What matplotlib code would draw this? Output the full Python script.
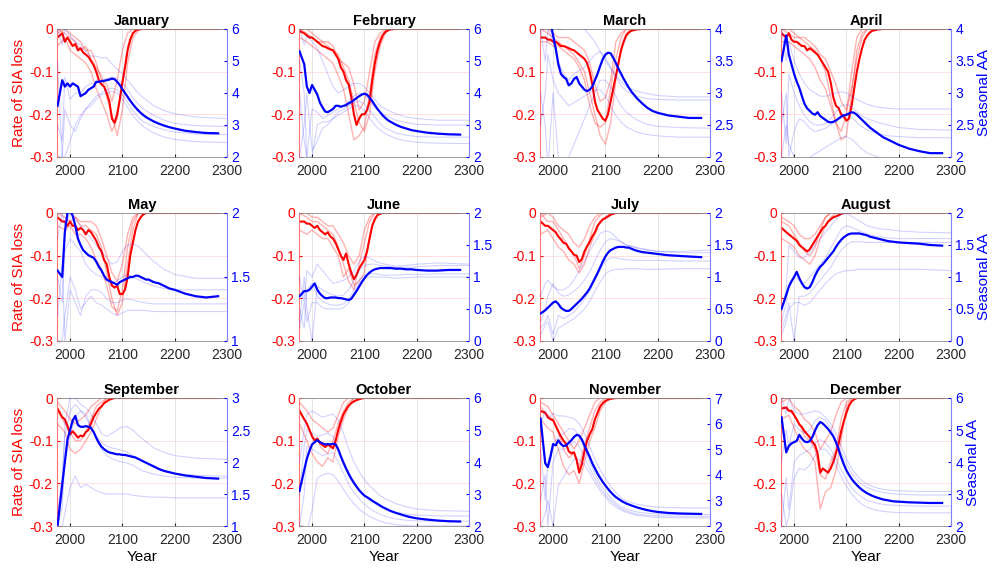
import matplotlib.pyplot as plt
from matplotlib.ticker import FormatStrFormatter

plt.rcParams['font.family'] = ['Liberation Sans', 'DejaVu Sans']
plt.rcParams['axes.unicode_minus'] = False

# years of the ensemble-mean curves
years = [1976, 1985, 1990, 1995, 2000, 2005, 2010, 2015, 2020, 2025,
         2030, 2035, 2040, 2045, 2050, 2055, 2060, 2065, 2070, 2075,
         2080, 2085, 2090, 2095, 2100, 2105, 2110, 2115, 2120, 2125,
         2130, 2135, 2140, 2145, 2150, 2160, 2170, 2180, 2190, 2200,
         2220, 2240, 2260, 2283]
# years of the single-member curves
years_aa_members = [1976, 1985, 1990, 2000, 2010, 2020, 2030, 2040, 2050, 2060,
                    2070, 2080, 2090, 2100, 2110, 2120, 2130, 2140, 2160, 2180,
                    2200, 2240, 2300]
years_sia_members = [1976, 1990, 2000, 2010, 2020, 2030, 2040, 2050, 2060, 2070,
                     2080, 2090, 2100, 2110, 2120, 2130, 2140, 2150, 2160, 2300]

months = ['January', 'February', 'March', 'April', 'May', 'June',
          'July', 'August', 'September', 'October', 'November', 'December']
aa_limits = [(2, 6), (2, 6), (2, 4), (2, 4), (1, 2), (0, 2),
             (0, 2), (0, 2), (1, 3), (2, 6), (2, 7), (2, 6)]
aa_steps = [1, 1, 0.5, 0.5, 0.5, 0.5, 0.5, 0.5, 0.5, 1, 1, 1]

# ---- January
sia_jan = [-0.02, -0.01, -0.03, -0.02, -0.03, -0.04, -0.035, -0.05, -0.045, -0.055,
           -0.06, -0.065, -0.075, -0.085, -0.1, -0.12, -0.13, -0.135, -0.15, -0.17,
           -0.21, -0.22, -0.2, -0.165, -0.125, -0.09, -0.05, -0.025, -0.01, -0.004,
           -0.001, 0, 0, 0, 0, 0, 0, 0, 0, 0,
           0, 0, 0, 0]
aa_jan = [3.6, 4.4, 4.2, 4.3, 4.2, 4.3, 4.25, 4.2, 3.9, 3.95,
          4.0, 4.1, 4.15, 4.2, 4.35, 4.35, 4.37, 4.38, 4.4, 4.42,
          4.45, 4.43, 4.35, 4.25, 4.12, 4.0, 3.88, 3.76, 3.65, 3.55,
          3.46, 3.38, 3.31, 3.25, 3.2, 3.11, 3.04, 2.98, 2.93, 2.89,
          2.82, 2.78, 2.75, 2.74]
sia_jan_members = [
    [0, -0.01, -0.02, -0.03, -0.05, -0.04, -0.07, -0.09, -0.11, -0.16, -0.2, -0.25, -0.19, -0.08, -0.02, -0.005, 0, 0, 0, 0],
    [-0.04, -0.02, -0.05, -0.06, -0.07, -0.08, -0.1, -0.14, -0.17, -0.2, -0.24, -0.21, -0.13, -0.04, -0.01, 0, 0, 0, 0, 0],
    [-0.01, 0, -0.01, -0.02, -0.03, -0.05, -0.05, -0.08, -0.12, -0.13, -0.17, -0.12, -0.05, -0.01, 0, 0, 0, 0, 0, 0]]
aa_jan_members = [
    [6, 5.5, 6, 5.8, 5.6, 5.5, 5.3, 5.15, 5.15, 5.1, 5.1, 4.9, 4.75, 4.6, 4.4, 4.2, 4.0, 3.85, 3.6, 3.45, 3.35, 3.25, 3.2],
    [3, 2.5, 4.5, 3.8, 4.0, 4.0, 4.2, 4.3, 4.3, 4.4, 4.45, 4.5, 4.45, 4.3, 4.1, 3.85, 3.65, 3.5, 3.3, 3.15, 3.05, 2.98, 2.95],
    [2, 2.0, 3.5, 3.0, 2.8, 3.2, 3.5, 3.7, 3.9, 4.0, 4.1, 4.15, 4.1, 3.95, 3.7, 3.45, 3.25, 3.1, 2.95, 2.85, 2.78, 2.72, 2.7],
    [5, 2.0, 2.0, 2.5, 3.0, 3.3, 3.5, 3.6, 3.8, 3.95, 4.0, 4.05, 4.0, 3.8, 3.55, 3.3, 3.1, 2.95, 2.75, 2.62, 2.55, 2.48, 2.45]]

# ---- February
sia_feb = [-0.005, -0.01, -0.015, -0.02, -0.02, -0.025, -0.03, -0.035, -0.04, -0.042,
           -0.045, -0.048, -0.05, -0.06, -0.07, -0.09, -0.1, -0.12, -0.13, -0.16,
           -0.2, -0.225, -0.21, -0.2, -0.2, -0.19, -0.17, -0.12, -0.08, -0.05,
           -0.03, -0.015, -0.007, -0.003, -0.001, 0, 0, 0, 0, 0,
           0, 0, 0, 0]
aa_feb = [5.3, 4.9, 4.2, 4.0, 4.25, 4.1, 3.95, 3.7, 3.55, 3.42,
          3.4, 3.45, 3.5, 3.6, 3.6, 3.57, 3.6, 3.62, 3.68, 3.72,
          3.78, 3.84, 3.9, 3.95, 3.98, 3.95, 3.85, 3.75, 3.62, 3.5,
          3.4, 3.3, 3.22, 3.15, 3.1, 3.01, 2.94, 2.89, 2.84, 2.81,
          2.76, 2.73, 2.71, 2.7]
sia_feb_members = [
    [0, -0.01, -0.02, -0.03, -0.03, -0.04, -0.05, -0.06, -0.09, -0.12, -0.17, -0.22, -0.24, -0.2, -0.1, -0.04, -0.01, 0, 0, 0],
    [-0.02, -0.03, -0.04, -0.05, -0.06, -0.07, -0.08, -0.11, -0.14, -0.2, -0.26, -0.25, -0.23, -0.15, -0.06, -0.02, -0.005, 0, 0, 0],
    [0, 0, -0.01, -0.02, -0.03, -0.03, -0.04, -0.07, -0.08, -0.09, -0.13, -0.19, -0.17, -0.1, -0.03, -0.01, 0, 0, 0, 0]]
aa_feb_members = [
    [6, 5.5, 5.8, 5.6, 5.4, 5.0, 4.6, 4.2, 4.0, 4.1, 4.2, 4.3, 4.3, 4.2, 4.0, 3.8, 3.6, 3.5, 3.35, 3.25, 3.2, 3.15, 3.15],
    [4, 2.5, 2.0, 3.5, 3.4, 3.2, 3.3, 3.4, 3.5, 3.6, 3.75, 3.9, 4.0, 3.95, 3.75, 3.55, 3.4, 3.3, 3.15, 3.07, 3.02, 3.0, 3.0],
    [2, 3, 4, 2.2, 2.5, 2.9, 3.0, 3.2, 3.4, 3.5, 3.6, 3.7, 3.75, 3.65, 3.45, 3.25, 3.05, 2.9, 2.75, 2.68, 2.64, 2.62, 2.62],
    [5, 4, 2.0, 2.0, 3.0, 3.1, 3.1, 3.2, 3.3, 3.4, 3.5, 3.6, 3.6, 3.45, 3.2, 3.0, 2.85, 2.72, 2.58, 2.5, 2.46, 2.43, 2.42]]

# ---- March
sia_mar = [-0.02, -0.02, -0.025, -0.025, -0.03, -0.03, -0.035, -0.04, -0.04, -0.042,
           -0.045, -0.048, -0.05, -0.055, -0.06, -0.065, -0.07, -0.08, -0.1, -0.13,
           -0.17, -0.19, -0.2, -0.21, -0.215, -0.2, -0.17, -0.14, -0.11, -0.08,
           -0.05, -0.03, -0.015, -0.008, -0.004, -0.001, 0, 0, 0, 0,
           0, 0, 0, 0]
aa_mar = [4.5, 4.4, 4.2, 4.1, 3.9, 3.7, 3.45, 3.3, 3.25, 3.22,
          3.12, 3.15, 3.22, 3.25, 3.15, 3.1, 3.05, 3.03, 3.05, 3.1,
          3.2, 3.3, 3.42, 3.53, 3.6, 3.63, 3.62, 3.55, 3.47, 3.38,
          3.3, 3.22, 3.15, 3.08, 3.02, 2.92, 2.84, 2.77, 2.72, 2.69,
          2.65, 2.63, 2.61, 2.61]
sia_mar_members = [
    [0, -0.01, -0.02, -0.03, -0.04, -0.05, -0.06, -0.08, -0.1, -0.15, -0.2, -0.25, -0.27, -0.22, -0.12, -0.04, -0.01, 0, 0, 0],
    [-0.03, -0.03, -0.04, -0.04, -0.05, -0.06, -0.07, -0.09, -0.12, -0.18, -0.22, -0.23, -0.22, -0.14, -0.07, -0.02, 0, 0, 0, 0],
    [0, 0, -0.01, -0.02, -0.02, -0.02, -0.03, -0.04, -0.05, -0.08, -0.13, -0.17, -0.16, -0.12, -0.03, -0.01, 0, 0, 0, 0]]
aa_mar_members = [
    [5, 4.5, 4.3, 4.1, 4.0, 4.0, 4.1, 4.2, 4.1, 4.0, 3.9, 3.8, 3.65, 3.5, 3.38, 3.27, 3.18, 3.1, 3.03, 2.99, 2.96, 2.94, 2.94],
    [4, 3.5, 4, 3.8, 3.5, 3.3, 3.2, 3.3, 3.35, 3.4, 3.5, 3.6, 3.65, 3.55, 3.4, 3.25, 3.12, 3.03, 2.95, 2.91, 2.9, 2.89, 2.89],
    [3, 2.5, 1.8, 3.0, 2.0, 1.8, 2.0, 2.2, 2.4, 2.6, 2.8, 3.0, 3.2, 3.2, 3.1, 2.95, 2.8, 2.7, 2.58, 2.51, 2.48, 2.46, 2.45],
    [2.5, 3, 3.6, 3.2, 3.0, 2.9, 2.8, 2.85, 2.9, 2.95, 3.0, 3.05, 3.05, 2.95, 2.8, 2.65, 2.55, 2.47, 2.39, 2.35, 2.33, 2.31, 2.31]]

# ---- April
sia_apr = [-0.01, -0.02, -0.01, -0.025, -0.03, -0.03, -0.035, -0.04, -0.04, -0.05,
           -0.045, -0.05, -0.055, -0.06, -0.07, -0.08, -0.09, -0.1, -0.125, -0.16,
           -0.18, -0.185, -0.2, -0.205, -0.215, -0.21, -0.18, -0.14, -0.1, -0.07,
           -0.045, -0.025, -0.015, -0.008, -0.004, -0.001, 0, 0, 0, 0,
           0, 0, 0, 0]
aa_apr = [3.5, 3.9, 3.6, 3.45, 3.3, 3.18, 3.08, 2.95, 2.83, 2.76,
          2.72, 2.68, 2.66, 2.7, 2.64, 2.61, 2.58, 2.55, 2.54, 2.55,
          2.57, 2.6, 2.63, 2.65, 2.66, 2.68, 2.7, 2.69, 2.66, 2.62,
          2.58, 2.54, 2.5, 2.46, 2.43, 2.37, 2.31, 2.27, 2.23, 2.19,
          2.13, 2.09, 2.06, 2.06]
sia_apr_members = [
    [0, 0, -0.01, -0.02, -0.03, -0.04, -0.05, -0.07, -0.1, -0.16, -0.22, -0.26, -0.25, -0.15, -0.05, -0.01, 0, 0, 0, 0],
    [-0.03, -0.03, -0.04, -0.05, -0.06, -0.07, -0.09, -0.12, -0.14, -0.18, -0.22, -0.24, -0.2, -0.1, -0.02, 0, 0, 0, 0, 0],
    [0, -0.01, -0.02, -0.02, -0.02, -0.03, -0.04, -0.06, -0.07, -0.1, -0.13, -0.17, -0.19, -0.14, -0.07, -0.02, 0, 0, 0, 0]]
aa_apr_members = [
    [4, 3.5, 3.8, 3.5, 3.3, 3.15, 3.05, 3.0, 2.95, 2.95, 2.97, 3.0, 3.02, 3.0, 2.95, 2.9, 2.86, 2.82, 2.78, 2.76, 2.75, 2.75, 2.75],
    [3, 2.2, 3.3, 3.0, 2.8, 2.65, 2.55, 2.5, 2.5, 2.52, 2.6, 2.7, 2.8, 2.82, 2.78, 2.7, 2.64, 2.6, 2.54, 2.5, 2.46, 2.43, 2.42],
    [2.5, 3, 2.0, 2.4, 2.6, 2.55, 2.45, 2.4, 2.42, 2.45, 2.5, 2.55, 2.65, 2.68, 2.62, 2.54, 2.47, 2.42, 2.36, 2.33, 2.32, 2.3, 2.3],
    [2, 2.5, 2.2, 2.0, 1.9, 1.95, 2.0, 2.05, 2.1, 2.15, 2.2, 2.25, 2.3, 2.32, 2.28, 2.2, 2.12, 2.06, 2.0, 1.97, 1.96, 1.95, 1.95]]

# ---- May
sia_may = [-0.01, -0.02, -0.02, -0.03, -0.02, -0.03, -0.03, -0.04, -0.035, -0.04,
           -0.05, -0.04, -0.045, -0.055, -0.065, -0.08, -0.09, -0.11, -0.12, -0.15,
           -0.17, -0.175, -0.17, -0.19, -0.19, -0.18, -0.15, -0.1, -0.07, -0.04,
           -0.02, -0.01, -0.003, 0, 0, 0, 0, 0, 0, 0,
           0, 0, 0, 0]
aa_may = [1.55, 1.5, 1.85, 2.0, 2.02, 1.98, 1.9, 1.8, 1.75, 1.71,
          1.69, 1.67, 1.66, 1.65, 1.62, 1.58, 1.55, 1.51, 1.48, 1.47,
          1.46, 1.45, 1.44, 1.46, 1.47, 1.48, 1.49, 1.5, 1.5, 1.51,
          1.51, 1.5, 1.49, 1.48, 1.48, 1.46, 1.45, 1.43, 1.41, 1.4,
          1.37, 1.35, 1.34, 1.35]
sia_may_members = [
    [0, -0.01, -0.02, -0.01, -0.03, -0.03, -0.04, -0.05, -0.08, -0.14, -0.2, -0.24, -0.21, -0.12, -0.04, 0, 0, 0, 0, 0],
    [-0.03, -0.04, -0.03, -0.05, -0.05, -0.06, -0.08, -0.11, -0.13, -0.17, -0.22, -0.23, -0.18, -0.08, -0.02, 0, 0, 0, 0, 0],
    [0, 0, 0, -0.01, -0.02, -0.02, -0.02, -0.03, -0.06, -0.1, -0.14, -0.16, -0.12, -0.05, -0.01, 0, 0, 0, 0, 0]]
aa_may_members = [
    [1.8, 2.0, 1.9, 2.0, 1.95, 1.9, 1.85, 1.8, 1.75, 1.7, 1.65, 1.6, 1.62, 1.7, 1.75, 1.76, 1.74, 1.7, 1.62, 1.56, 1.52, 1.49, 1.49],
    [1.5, 1.3, 1.7, 1.8, 1.75, 1.7, 1.6, 1.55, 1.52, 1.5, 1.47, 1.45, 1.47, 1.5, 1.52, 1.5, 1.48, 1.46, 1.43, 1.41, 1.4, 1.4, 1.4],
    [1.2, 1.6, 1.0, 1.4, 1.3, 1.2, 1.35, 1.4, 1.4, 1.38, 1.33, 1.3, 1.3, 1.32, 1.33, 1.32, 1.31, 1.3, 1.29, 1.29, 1.29, 1.29, 1.29],
    [1.0, 1.0, 1.2, 1.5, 1.4, 1.25, 1.3, 1.35, 1.3, 1.28, 1.25, 1.22, 1.2, 1.22, 1.24, 1.24, 1.24, 1.24, 1.23, 1.23, 1.23, 1.23, 1.23]]

# ---- June
sia_jun = [-0.02, -0.02, -0.025, -0.025, -0.03, -0.035, -0.03, -0.04, -0.045, -0.05,
           -0.045, -0.055, -0.06, -0.07, -0.085, -0.1, -0.11, -0.095, -0.12, -0.14,
           -0.155, -0.145, -0.13, -0.12, -0.11, -0.09, -0.06, -0.03, -0.015, -0.005,
           -0.002, 0, 0, 0, 0, 0, 0, 0, 0, 0,
           0, 0, 0, 0]
aa_jun = [0.7, 0.78, 0.78, 0.8, 0.85, 0.9, 0.8, 0.74, 0.7, 0.67,
          0.67, 0.68, 0.68, 0.68, 0.67, 0.67, 0.66, 0.65, 0.64, 0.66,
          0.72, 0.78, 0.85, 0.92, 0.98, 1.03, 1.07, 1.1, 1.12, 1.13,
          1.14, 1.14, 1.14, 1.14, 1.14, 1.13, 1.13, 1.12, 1.12, 1.11,
          1.1, 1.1, 1.11, 1.11]
sia_jun_members = [
    [0, -0.01, -0.02, -0.02, -0.03, -0.04, -0.05, -0.08, -0.12, -0.16, -0.18, -0.12, -0.07, -0.02, 0, 0, 0, 0, 0, 0],
    [-0.04, -0.05, -0.04, -0.05, -0.06, -0.06, -0.08, -0.1, -0.15, -0.13, -0.17, -0.16, -0.14, -0.05, -0.01, 0, 0, 0, 0, 0],
    [0, 0, -0.01, -0.01, -0.02, -0.03, -0.03, -0.05, -0.07, -0.1, -0.12, -0.1, -0.04, -0.01, 0, 0, 0, 0, 0, 0]]
aa_jun_members = [
    [1.0, 0.6, 1.1, 1.0, 1.2, 1.1, 1.0, 0.9, 0.92, 0.95, 1.0, 1.1, 1.25, 1.32, 1.3, 1.25, 1.22, 1.2, 1.17, 1.18, 1.2, 1.22, 1.2],
    [0.3, 1.0, 0.5, 0.0, 0.85, 0.8, 0.75, 0.72, 0.7, 0.72, 0.8, 0.95, 1.1, 1.18, 1.2, 1.2, 1.18, 1.17, 1.15, 1.15, 1.16, 1.18, 1.18],
    [0.5, 0.2, 0.8, 0.9, 0.7, 0.62, 0.58, 0.56, 0.56, 0.58, 0.65, 0.8, 0.95, 1.03, 1.05, 1.05, 1.04, 1.03, 1.03, 1.04, 1.04, 1.05, 1.05],
    [0.2, 0.6, 0.3, 0.6, 0.6, 0.52, 0.5, 0.5, 0.5, 0.52, 0.6, 0.75, 0.9, 0.97, 1.0, 1.0, 1.0, 1.0, 0.98, 0.99, 1.0, 1.0, 1.0]]

# ---- July
sia_jul = [-0.02, -0.03, -0.03, -0.035, -0.04, -0.045, -0.055, -0.062, -0.07, -0.072,
           -0.083, -0.09, -0.098, -0.1, -0.115, -0.108, -0.09, -0.078, -0.068, -0.055,
           -0.045, -0.03, -0.022, -0.015, -0.012, -0.008, -0.004, -0.002, 0, 0,
           0, 0, 0, 0, 0, 0, 0, 0, 0, 0,
           0, 0, 0, 0]
aa_jul = [0.43, 0.48, 0.52, 0.56, 0.6, 0.62, 0.58, 0.52, 0.49, 0.47,
          0.47, 0.5, 0.54, 0.58, 0.62, 0.66, 0.71, 0.76, 0.82, 0.9,
          0.98, 1.06, 1.15, 1.24, 1.32, 1.38, 1.42, 1.44, 1.46, 1.47,
          1.47, 1.47, 1.46, 1.46, 1.44, 1.41, 1.39, 1.38, 1.37, 1.36,
          1.34, 1.33, 1.32, 1.31]
sia_jul_members = [
    [0, -0.02, -0.02, -0.04, -0.06, -0.08, -0.1, -0.13, -0.1, -0.06, -0.02, -0.005, 0, 0, 0, 0, 0, 0, 0, 0],
    [-0.05, -0.04, -0.06, -0.08, -0.09, -0.11, -0.12, -0.14, -0.12, -0.08, -0.05, -0.02, -0.01, 0, 0, 0, 0, 0, 0, 0],
    [-0.01, 0, -0.01, -0.03, -0.04, -0.05, -0.07, -0.08, -0.06, -0.03, -0.01, 0, 0, 0, 0, 0, 0, 0, 0, 0]]
aa_jul_members = [
    [0.7, 0.9, 0.95, 0.85, 0.8, 0.8, 0.85, 0.95, 1.1, 1.25, 1.4, 1.55, 1.68, 1.72, 1.7, 1.62, 1.55, 1.5, 1.45, 1.42, 1.4, 1.4, 1.42],
    [0.3, 0.5, 0.7, 0.9, 0.75, 0.7, 0.72, 0.78, 0.85, 0.95, 1.08, 1.25, 1.42, 1.55, 1.6, 1.58, 1.55, 1.5, 1.46, 1.43, 1.4, 1.38, 1.38],
    [0.2, 0.3, 0.4, 0.1, 0.4, 0.35, 0.4, 0.45, 0.55, 0.65, 0.78, 0.95, 1.12, 1.25, 1.3, 1.3, 1.28, 1.27, 1.26, 1.26, 1.26, 1.25, 1.25],
    [0.1, 0.25, 0.3, 0.0, 0.2, 0.25, 0.3, 0.35, 0.42, 0.5, 0.62, 0.78, 0.92, 1.05, 1.1, 1.12, 1.12, 1.13, 1.13, 1.12, 1.12, 1.13, 1.13]]

# ---- August
sia_aug = [-0.035, -0.045, -0.05, -0.055, -0.06, -0.065, -0.075, -0.08, -0.085, -0.09,
           -0.085, -0.075, -0.065, -0.055, -0.045, -0.035, -0.03, -0.02, -0.015, -0.01,
           -0.008, -0.005, -0.002, 0, 0, 0, 0, 0, 0, 0,
           0, 0, 0, 0, 0, 0, 0, 0, 0, 0,
           0, 0, 0, 0]
aa_aug = [0.5, 0.72, 0.85, 0.93, 1.0, 1.08, 0.98, 0.9, 0.84, 0.82,
          0.84, 0.92, 1.02, 1.1, 1.16, 1.2, 1.25, 1.3, 1.35, 1.4,
          1.47, 1.53, 1.58, 1.62, 1.65, 1.67, 1.68, 1.68, 1.68, 1.68,
          1.67, 1.66, 1.65, 1.63, 1.62, 1.6, 1.58, 1.56, 1.55, 1.54,
          1.53, 1.52, 1.5, 1.49]
sia_aug_members = [
    [-0.02, -0.03, -0.05, -0.07, -0.09, -0.1, -0.08, -0.04, -0.01, 0, 0, 0, 0, 0, 0, 0, 0, 0, 0, 0],
    [-0.06, -0.07, -0.08, -0.1, -0.11, -0.12, -0.1, -0.06, -0.03, -0.01, 0, 0, 0, 0, 0, 0, 0, 0, 0, 0],
    [-0.01, -0.02, -0.03, -0.05, -0.06, -0.06, -0.05, -0.03, -0.01, 0, 0, 0, 0, 0, 0, 0, 0, 0, 0, 0]]
aa_aug_members = [
    [0.5, 0.8, 1.5, 1.4, 1.3, 1.3, 1.4, 1.5, 1.6, 1.7, 1.8, 1.9, 1.97, 2.0, 1.95, 1.9, 1.85, 1.8, 1.76, 1.74, 1.72, 1.7, 1.69],
    [0.3, 0.6, 0.9, 1.0, 0.95, 0.9, 1.0, 1.1, 1.2, 1.3, 1.45, 1.6, 1.75, 1.8, 1.78, 1.74, 1.7, 1.67, 1.63, 1.61, 1.6, 1.6, 1.6],
    [0.2, 0.4, 0.6, 0.0, 0.7, 0.7, 0.75, 0.85, 0.95, 1.05, 1.15, 1.3, 1.42, 1.5, 1.55, 1.55, 1.55, 1.54, 1.54, 1.54, 1.54, 1.54, 1.54],
    [0.1, 0.3, 0.5, 0.6, 0.6, 0.56, 0.6, 0.7, 0.8, 0.9, 0.98, 1.05, 1.08, 1.1, 1.1, 1.12, 1.12, 1.12, 1.12, 1.12, 1.12, 1.12, 1.1]]

# ---- September
sia_sep = [-0.025, -0.045, -0.05, -0.065, -0.085, -0.078, -0.085, -0.093, -0.088, -0.09,
           -0.08, -0.075, -0.06, -0.045, -0.035, -0.025, -0.02, -0.012, -0.008, -0.004,
           -0.002, 0, 0, 0, 0, 0, 0, 0, 0, 0,
           0, 0, 0, 0, 0, 0, 0, 0, 0, 0,
           0, 0, 0, 0]
aa_sep = [1.0, 1.65, 2.0, 2.35, 2.5, 2.65, 2.72, 2.58, 2.55, 2.55,
          2.56, 2.55, 2.53, 2.47, 2.38, 2.3, 2.24, 2.2, 2.17, 2.15,
          2.14, 2.13, 2.12, 2.12, 2.11, 2.11, 2.1, 2.09, 2.08, 2.07,
          2.05, 2.03, 2.01, 1.99, 1.97, 1.93, 1.89, 1.86, 1.84, 1.82,
          1.79, 1.77, 1.75, 1.74]
sia_sep_members = [
    [-0.01, -0.03, -0.05, -0.06, -0.05, -0.04, -0.02, -0.01, 0, 0, 0, 0, 0, 0, 0, 0, 0, 0, 0, 0],
    [-0.06, -0.08, -0.12, -0.13, -0.12, -0.1, -0.08, -0.05, -0.02, 0, 0, 0, 0, 0, 0, 0, 0, 0, 0, 0],
    [-0.03, -0.06, -0.08, -0.1, -0.1, -0.08, -0.05, -0.02, -0.01, 0, 0, 0, 0, 0, 0, 0, 0, 0, 0, 0]]
aa_sep_members = [
    [1.0, 1.5, 2.6, 3.0, 3.0, 2.9, 2.85, 2.75, 2.6, 2.45, 2.4, 2.45, 2.5, 2.55, 2.55, 2.5, 2.42, 2.35, 2.22, 2.15, 2.1, 2.06, 2.04],
    [1.2, 1.8, 2.4, 2.8, 2.9, 2.8, 2.7, 2.55, 2.4, 2.3, 2.25, 2.22, 2.2, 2.18, 2.15, 2.1, 2.05, 2.0, 1.92, 1.86, 1.82, 1.79, 1.78],
    [1.0, 1.3, 2.0, 2.4, 2.7, 2.8, 2.75, 2.55, 2.35, 2.2, 2.1, 2.05, 2.02, 2.0, 1.98, 1.95, 1.9, 1.86, 1.81, 1.78, 1.76, 1.75, 1.75],
    [0.8, 1.0, 1.2, 1.6, 1.78, 1.6, 1.65, 1.6, 1.55, 1.52, 1.5, 1.5, 1.5, 1.5, 1.5, 1.48, 1.47, 1.46, 1.45, 1.45, 1.44, 1.44, 1.44]]

# ---- October
sia_oct = [-0.03, -0.05, -0.06, -0.075, -0.09, -0.1, -0.095, -0.105, -0.11, -0.115,
           -0.11, -0.113, -0.118, -0.1, -0.075, -0.055, -0.038, -0.027, -0.018, -0.012,
           -0.008, -0.005, -0.003, -0.001, 0, 0, 0, 0, 0, 0,
           0, 0, 0, 0, 0, 0, 0, 0, 0, 0,
           0, 0, 0, 0]
aa_oct = [3.1, 3.75, 4.1, 4.35, 4.55, 4.62, 4.68, 4.62, 4.58, 4.55,
          4.56, 4.55, 4.57, 4.55, 4.4, 4.18, 3.98, 3.8, 3.63, 3.48,
          3.35, 3.23, 3.12, 3.03, 2.95, 2.9, 2.85, 2.79, 2.74, 2.69,
          2.64, 2.59, 2.55, 2.51, 2.47, 2.41, 2.36, 2.31, 2.27, 2.24,
          2.2, 2.17, 2.15, 2.14]
sia_oct_members = [
    [-0.01, -0.03, -0.05, -0.06, -0.07, -0.08, -0.07, -0.04, -0.01, 0, 0, 0, 0, 0, 0, 0, 0, 0, 0, 0],
    [-0.06, -0.1, -0.13, -0.15, -0.16, -0.14, -0.15, -0.09, -0.05, -0.02, 0, 0, 0, 0, 0, 0, 0, 0, 0, 0],
    [-0.03, -0.06, -0.09, -0.1, -0.12, -0.13, -0.1, -0.06, -0.03, -0.01, 0, 0, 0, 0, 0, 0, 0, 0, 0, 0]]
aa_oct_members = [
    [4, 5, 5.5, 5.6, 5.5, 5.4, 5.45, 5.5, 5.3, 4.9, 4.4, 4.0, 3.7, 3.45, 3.25, 3.1, 2.95, 2.85, 2.7, 2.6, 2.53, 2.48, 2.46],
    [3, 4.5, 5.0, 4.9, 4.8, 4.85, 4.9, 4.8, 4.3, 3.9, 3.55, 3.3, 3.1, 2.95, 2.8, 2.7, 2.6, 2.52, 2.43, 2.37, 2.34, 2.32, 2.31],
    [2, 3, 4.5, 4.4, 4.3, 4.2, 4.25, 4.3, 4.0, 3.65, 3.3, 3.05, 2.85, 2.68, 2.55, 2.45, 2.37, 2.3, 2.22, 2.18, 2.16, 2.15, 2.15],
    [2, 2, 1.8, 2.5, 3.5, 3.6, 3.65, 3.6, 3.4, 3.15, 2.9, 2.7, 2.52, 2.4, 2.3, 2.22, 2.15, 2.1, 2.04, 2.01, 2.0, 2.0, 2.0]]

# ---- November
sia_nov = [-0.03, -0.035, -0.045, -0.05, -0.052, -0.065, -0.078, -0.09, -0.1, -0.108,
           -0.125, -0.13, -0.127, -0.145, -0.175, -0.155, -0.125, -0.1, -0.085, -0.073,
           -0.05, -0.035, -0.02, -0.012, -0.007, -0.004, -0.002, -0.001, 0, 0,
           0, 0, 0, 0, 0, 0, 0, 0, 0, 0,
           0, 0, 0, 0]
aa_nov = [6.2, 4.45, 4.3, 4.7, 5.2, 5.15, 5.35, 5.2, 5.12, 5.15,
          5.25, 5.35, 5.48, 5.56, 5.53, 5.38, 5.15, 4.92, 4.7, 4.45,
          4.25, 4.05, 3.88, 3.72, 3.58, 3.45, 3.33, 3.22, 3.13, 3.06,
          2.99, 2.93, 2.88, 2.84, 2.8, 2.73, 2.67, 2.62, 2.58, 2.55,
          2.51, 2.49, 2.48, 2.47]
sia_nov_members = [
    [-0.01, -0.02, -0.04, -0.06, -0.08, -0.1, -0.12, -0.1, -0.07, -0.04, -0.01, 0, 0, 0, 0, 0, 0, 0, 0, 0],
    [-0.05, -0.07, -0.08, -0.12, -0.16, -0.18, -0.17, -0.2, -0.15, -0.1, -0.07, -0.03, -0.01, 0, 0, 0, 0, 0, 0, 0],
    [-0.02, -0.04, -0.05, -0.08, -0.12, -0.14, -0.13, -0.16, -0.11, -0.07, -0.03, -0.01, 0, 0, 0, 0, 0, 0, 0, 0]]
aa_nov_members = [
    [6, 6.5, 6.2, 6.4, 6.3, 6.3, 6.25, 6.2, 6.0, 5.6, 5.1, 4.6, 4.2, 3.85, 3.55, 3.3, 3.1, 2.98, 2.85, 2.78, 2.74, 2.71, 2.7],
    [5, 3, 4.5, 5.2, 5.5, 5.6, 5.8, 5.8, 5.5, 5.0, 4.5, 4.05, 3.65, 3.35, 3.1, 2.9, 2.76, 2.66, 2.55, 2.5, 2.47, 2.46, 2.45],
    [3, 4, 2, 4.5, 5.0, 5.0, 5.1, 5.3, 5.1, 4.7, 4.25, 3.85, 3.5, 3.22, 3.0, 2.82, 2.68, 2.58, 2.47, 2.42, 2.4, 2.38, 2.38],
    [2, 2.5, 3, 2.0, 3.6, 3.9, 4.3, 4.6, 4.6, 4.4, 4.05, 3.7, 3.38, 3.12, 2.9, 2.74, 2.62, 2.53, 2.42, 2.37, 2.34, 2.32, 2.32]]

# ---- December
sia_dec = [-0.025, -0.022, -0.03, -0.03, -0.04, -0.05, -0.062, -0.068, -0.078, -0.085,
           -0.092, -0.103, -0.11, -0.13, -0.175, -0.165, -0.17, -0.175, -0.165, -0.15,
           -0.13, -0.108, -0.078, -0.055, -0.035, -0.018, -0.008, -0.003, 0, 0,
           0, 0, 0, 0, 0, 0, 0, 0, 0, 0,
           0, 0, 0, 0]
aa_dec = [5.4, 4.3, 4.5, 4.58, 4.62, 4.66, 4.85, 4.73, 4.64, 4.62,
          4.65, 4.78, 4.98, 5.15, 5.25, 5.2, 5.12, 5.03, 4.92, 4.8,
          4.62, 4.4, 4.15, 3.93, 3.74, 3.6, 3.47, 3.37, 3.28, 3.2,
          3.13, 3.07, 3.02, 2.98, 2.94, 2.88, 2.83, 2.8, 2.77, 2.76,
          2.74, 2.73, 2.72, 2.72]
sia_dec_members = [
    [-0.01, 0, -0.02, -0.03, -0.05, -0.06, -0.08, -0.12, -0.1, -0.08, -0.04, -0.01, 0, 0, 0, 0, 0, 0, 0, 0],
    [-0.05, -0.04, -0.07, -0.1, -0.12, -0.13, -0.15, -0.26, -0.22, -0.21, -0.17, -0.1, -0.02, 0, 0, 0, 0, 0, 0, 0],
    [-0.02, -0.03, -0.04, -0.06, -0.09, -0.1, -0.12, -0.18, -0.19, -0.15, -0.12, -0.05, -0.01, 0, 0, 0, 0, 0, 0, 0]]
aa_dec_members = [
    [6, 5.5, 6, 5.6, 5.5, 5.5, 5.55, 5.6, 5.55, 5.4, 5.2, 4.9, 4.5, 4.1, 3.8, 3.58, 3.42, 3.3, 3.18, 3.12, 3.1, 3.08, 3.08],
    [4, 5, 4.5, 5.2, 5.0, 4.9, 5.0, 5.3, 5.4, 5.3, 5.05, 4.7, 4.3, 3.95, 3.65, 3.45, 3.3, 3.2, 3.08, 3.02, 2.99, 2.97, 2.97],
    [2, 3.5, 2.5, 4.0, 4.2, 4.3, 4.4, 4.6, 4.7, 4.6, 4.4, 4.1, 3.75, 3.45, 3.2, 3.02, 2.9, 2.8, 2.7, 2.66, 2.64, 2.62, 2.62],
    [3, 2, 2.3, 3.5, 3.8, 3.75, 3.9, 4.2, 4.4, 4.4, 4.2, 3.9, 3.55, 3.25, 3.0, 2.82, 2.68, 2.58, 2.48, 2.44, 2.42, 2.41, 2.41]]

sia_means = [sia_jan, sia_feb, sia_mar, sia_apr, sia_may, sia_jun,
             sia_jul, sia_aug, sia_sep, sia_oct, sia_nov, sia_dec]
aa_means = [aa_jan, aa_feb, aa_mar, aa_apr, aa_may, aa_jun,
            aa_jul, aa_aug, aa_sep, aa_oct, aa_nov, aa_dec]
sia_members = [sia_jan_members, sia_feb_members, sia_mar_members, sia_apr_members,
               sia_may_members, sia_jun_members, sia_jul_members, sia_aug_members,
               sia_sep_members, sia_oct_members, sia_nov_members, sia_dec_members]
aa_members = [aa_jan_members, aa_feb_members, aa_mar_members, aa_apr_members,
              aa_may_members, aa_jun_members, aa_jul_members, aa_aug_members,
              aa_sep_members, aa_oct_members, aa_nov_members, aa_dec_members]

W, H = 994, 570
fig = plt.figure(figsize=(W / 100, H / 100), dpi=100)

col_left = [57, 299, 540, 781]   # pixels
row_top = [29, 213, 398]
ax_w, ax_h = 170, 128
tick_fs = 10

for i, month in enumerate(months):
    r, c = divmod(i, 4)
    ax = fig.add_axes([col_left[c] / W, 1 - (row_top[r] + ax_h) / H, ax_w / W, ax_h / H])

    for m in sia_members[i]:
        ax.plot(years_sia_members, m, color='red', alpha=0.3, lw=1.0)
    ax.plot(years, sia_means[i], color='red', lw=1.5)
    ax.set_xlim(1975, 2300)
    ax.set_ylim(-0.3, 0)
    ax.set_xticks([2000, 2100, 2200, 2300])
    ax.set_yticks([-0.3, -0.2, -0.1, 0])
    ax.yaxis.set_major_formatter(FormatStrFormatter('%g'))
    ax.grid(axis='x', color='0.88', lw=0.6)
    ax.grid(axis='y', color=(1, 0.85, 0.85), lw=0.6)
    ax.tick_params(axis='y', colors='red', labelsize=tick_fs, length=2, direction='in', pad=3)
    ax.tick_params(axis='x', colors='0.15', labelsize=tick_fs, length=2, direction='in', pad=5)
    ax.spines['left'].set_color((1, 0.45, 0.45))
    ax.spines['right'].set_visible(False)
    for s in ('top', 'bottom'):
        ax.spines[s].set_color('0.55')
        ax.spines[s].set_linewidth(0.6)
    ax.set_title(month, fontsize=10.5, fontweight='bold', pad=3)

    ax2 = ax.twinx()
    for m in aa_members[i]:
        ax2.plot(years_aa_members, m, color='blue', alpha=0.18, lw=0.8)
    ax2.plot(years, aa_means[i], color='blue', lw=1.6)
    lo, hi = aa_limits[i]
    ax2.set_ylim(lo, hi)
    step = aa_steps[i]
    n = int(round((hi - lo) / step))
    ax2.set_yticks([lo + k * step for k in range(n + 1)])
    ax2.yaxis.set_major_formatter(FormatStrFormatter('%g'))
    ax2.tick_params(axis='y', colors='blue', labelsize=tick_fs, length=2, direction='in', pad=3)
    ax2.spines['right'].set_color((0.5, 0.5, 1))
    for s in ('left', 'top', 'bottom'):
        ax2.spines[s].set_visible(False)

    if c == 0:
        ax.set_ylabel('Rate of SIA loss', color='red', fontsize=11, labelpad=2)
    if c == 3:
        ax2.set_ylabel('Seasonal AA', color='blue', fontsize=11, labelpad=2)
    if r == 2:
        ax.set_xlabel('Year', fontsize=11, labelpad=2)

fig.savefig('out.png', dpi=100)
